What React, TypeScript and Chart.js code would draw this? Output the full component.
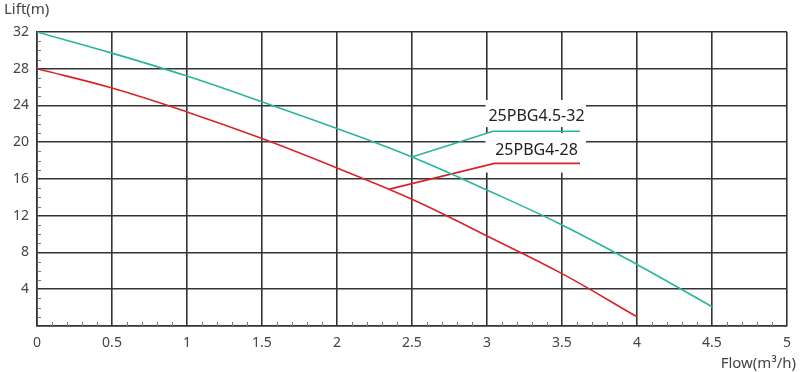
import React, { useEffect, useRef } from "react";
import { Chart, registerables } from "chart.js";

Chart.register(...registerables);

const flowValues = [0, 0.5, 1, 1.5, 2, 2.5, 3, 3.5, 4, 4.5];
const liftA = [32, 29.7, 27.2, 24.4, 21.5, 18.4, 14.8, 11.0, 6.7, 2.1]; // 25PBG4.5-32
const flowB = [0, 0.5, 1, 1.5, 2, 2.5, 3, 3.5, 4];
const liftB = [28, 25.9, 23.3, 20.4, 17.2, 13.8, 9.8, 5.7, 1.0]; // 25PBG4-28

const seriesNames = ["25PBG4.5-32", "25PBG4-28"];
const xTicks = [0, 0.5, 1, 1.5, 2, 2.5, 3, 3.5, 4, 4.5, 5];
const yTicks = [4, 8, 12, 16, 20, 24, 28, 32];

// leader lines for the labels (data coordinates)
const leaderA = [
  { x: 2.5, y: 18.4 },
  { x: 3.04, y: 21.2 },
  { x: 3.62, y: 21.2 },
];
const leaderB = [
  { x: 2.35, y: 14.9 },
  { x: 3.05, y: 17.7 },
  { x: 3.62, y: 17.7 },
];

const TEAL = "#27b69d";
const RED = "#d8232a";
const GRID = "#333";
const TEXT = "#444";
const FONT = "'Noto Sans', 'DejaVu Sans', sans-serif";

export default function App() {
  const ref = useRef<HTMLCanvasElement | null>(null);

  useEffect(() => {
    document.body.style.margin = "0";
    const canvas = ref.current;
    if (!canvas) return;

    const decor = {
      id: "decor",
      beforeDatasetsDraw(chart: any) {
        const { ctx, scales } = chart;
        const x = scales.x;
        const y = scales.y;
        ctx.save();
        // white label boxes
        ctx.fillStyle = "#fff";
        const b1x = x.getPixelForValue(2.99);
        const b1r = x.getPixelForValue(3.66);
        ctx.fillRect(b1x, y.getPixelForValue(24.6), b1r - b1x, y.getPixelForValue(21.65) - y.getPixelForValue(24.6));
        ctx.fillRect(b1x, y.getPixelForValue(21.0), b1r - b1x, y.getPixelForValue(16.7) - y.getPixelForValue(21.0));
        // minor ticks
        ctx.strokeStyle = "#777";
        ctx.lineWidth = 1;
        const bottom = y.getPixelForValue(0);
        const left = x.getPixelForValue(0);
        ctx.beginPath();
        for (let i = 1; i < 50; i++) {
          if (i % 5 === 0) continue;
          const px = Math.round(x.getPixelForValue(i / 10)) + 0.5;
          ctx.moveTo(px, bottom);
          ctx.lineTo(px, bottom - 4);
        }
        for (let j = 1; j < 32; j++) {
          if (j % 4 === 0) continue;
          const py = Math.round(y.getPixelForValue(j)) + 0.5;
          ctx.moveTo(left, py);
          ctx.lineTo(left + 4, py);
        }
        ctx.stroke();
        ctx.restore();
      },
      afterDatasetsDraw(chart: any) {
        const { ctx, scales } = chart;
        const x = scales.x;
        const y = scales.y;
        ctx.save();
        ctx.fillStyle = "#222";
        ctx.font = `16px ${FONT}`;
        ctx.textAlign = "center";
        ctx.textBaseline = "middle";
        const cx = x.getPixelForValue(3.33);
        ctx.fillText(seriesNames[0], cx, y.getPixelForValue(22.85));
        ctx.fillText(seriesNames[1], cx, y.getPixelForValue(19.15));
        // axis titles
        ctx.fillStyle = TEXT;
        ctx.font = `15px ${FONT}`;
        ctx.textAlign = "left";
        ctx.fillText("Lift(m)", 4, 10);
        ctx.textAlign = "right";
        ctx.fillText("Flow(m³/h)", 796, 364);
        ctx.restore();
      },
    };

    const chart = new Chart(canvas, {
      type: "line",
      data: {
        datasets: [
          {
            label: seriesNames[0],
            data: flowValues.map((f, i) => ({ x: f, y: liftA[i] })),
            borderColor: TEAL,
            borderWidth: 1.6,
            pointRadius: 0,
            tension: 0.4,
          },
          {
            label: seriesNames[1],
            data: flowB.map((f, i) => ({ x: f, y: liftB[i] })),
            borderColor: RED,
            borderWidth: 1.6,
            pointRadius: 0,
            tension: 0.4,
          },
          {
            label: "leaderA",
            data: leaderA,
            borderColor: TEAL,
            borderWidth: 1.6,
            pointRadius: 0,
            tension: 0,
          },
          {
            label: "leaderB",
            data: leaderB,
            borderColor: RED,
            borderWidth: 1.6,
            pointRadius: 0,
            tension: 0,
          },
        ],
      },
      options: {
        animation: false,
        responsive: false,
        maintainAspectRatio: false,
        layout: { padding: { top: 32, right: 10, left: 0, bottom: 0 } },
        plugins: {
          legend: { display: false },
          tooltip: { enabled: false },
        },
        scales: {
          x: {
            type: "linear",
            min: 0,
            max: 5,
            afterFit: (s: any) => {
              s.height = 46;
            },
            afterBuildTicks: (s: any) => {
              s.ticks = xTicks.map((v) => ({ value: v }));
            },
            ticks: {
              padding: 9,
              color: TEXT,
              font: { size: 14, family: FONT },
              maxRotation: 0,
              callback: (v: any) => String(v),
            },
            grid: { color: GRID, lineWidth: 1.6, drawTicks: false },
            border: { color: GRID, width: 1.6 },
          },
          y: {
            type: "linear",
            min: 0,
            max: 32,
            afterFit: (s: any) => {
              s.width = 37;
            },
            afterBuildTicks: (s: any) => {
              s.ticks = [0, ...yTicks].map((v) => ({ value: v }));
            },
            ticks: {
              padding: 8,
              color: TEXT,
              font: { size: 14, family: FONT },
              callback: (v: any) => (v === 0 ? "" : String(v)),
            },
            grid: { color: GRID, lineWidth: 1.6, drawTicks: false },
            border: { color: GRID, width: 1.6 },
          },
        },
      },
      plugins: [decor],
    } as any);

    return () => chart.destroy();
  }, []);

  return (
    <div style={{ width: 800, height: 372 }}>
      <canvas ref={ref} width={800} height={372} style={{ display: "block", width: 800, height: 372 }} />
    </div>
  );
}
